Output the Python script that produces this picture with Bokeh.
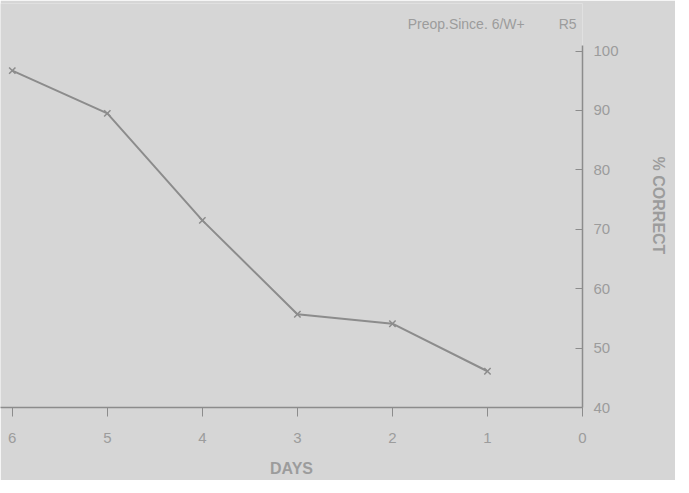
from bokeh.plotting import figure
from bokeh.models import Range1d, LinearAxis, FixedTicker, Label
from bokeh.embed import file_html
from bokeh.resources import INLINE

days = [6, 5, 4, 3, 2, 1]
pct_correct = [96.7, 89.5, 71.5, 55.7, 54.1, 46.1]
x_ticks = [0, 1, 2, 3, 4, 5, 6]
y_ticks = [40, 50, 60, 70, 80, 90, 100]
title_text = "Preop.Since. 6/W+"
title_tag = "R5"

BG = "#d6d6d6"
INK = "#8c8c8c"
TXT = "#9c9c9c"
FONT = "Liberation Sans"

p = figure(width=675, height=480, output_backend="svg", toolbar_location=None,
           x_range=Range1d(6.124, 0), y_range=Range1d(40, 108.0),
           y_axis_location=None, min_border_left=0, min_border_top=3,
           min_border_right=93, min_border_bottom=73)
p.background_fill_color = BG
p.border_fill_color = BG
p.outline_line_color = None
p.xgrid.visible = False
p.ygrid.visible = False

xa = p.xaxis[0]
xa.ticker = FixedTicker(ticks=x_ticks)
xa.axis_label = "DAYS"
xa.axis_line_color = INK
xa.axis_line_width = 1.5
xa.major_tick_line_color = INK
xa.major_tick_in = 0
xa.major_tick_out = 9
xa.minor_tick_line_color = None
xa.major_label_text_color = TXT
xa.major_label_text_font = FONT
xa.major_label_text_font_size = "15px"
xa.major_label_standoff = 16
xa.axis_label_text_color = TXT
xa.axis_label_text_font = FONT
xa.axis_label_text_font_size = "16px"
xa.axis_label_text_font_style = "bold"
xa.axis_label_standoff = 14

ya = LinearAxis(ticker=FixedTicker(ticks=y_ticks), axis_label="% CORRECT",
                bounds=(40, 101))
ya.axis_line_color = INK
ya.axis_line_width = 1.5
ya.major_tick_line_color = INK
ya.major_tick_in = 7
ya.major_tick_out = 0
ya.minor_tick_line_color = None
ya.major_label_text_color = TXT
ya.major_label_text_font = FONT
ya.major_label_text_font_size = "15px"
ya.major_label_standoff = 11
ya.axis_label_text_color = TXT
ya.axis_label_text_font = FONT
ya.axis_label_text_font_size = "16px"
ya.axis_label_text_font_style = "bold"
ya.axis_label_standoff = 28
p.add_layout(ya, "right")

p.line(days, pct_correct, line_color=INK, line_width=2)
p.scatter(days, pct_correct, marker="x", size=9, line_color=INK, line_width=1.5)

p.add_layout(Label(x=1.84, y=104.5, text=title_text, text_color=TXT,
                   text_font=FONT, text_font_size="14px",
                   text_align="left", text_baseline="middle"))
p.add_layout(Label(x=0.25, y=104.5, text=title_tag, text_color=TXT,
                   text_font=FONT, text_font_size="14px",
                   text_align="left", text_baseline="middle"))

open("out.html", "w").write(file_html(p, INLINE))
